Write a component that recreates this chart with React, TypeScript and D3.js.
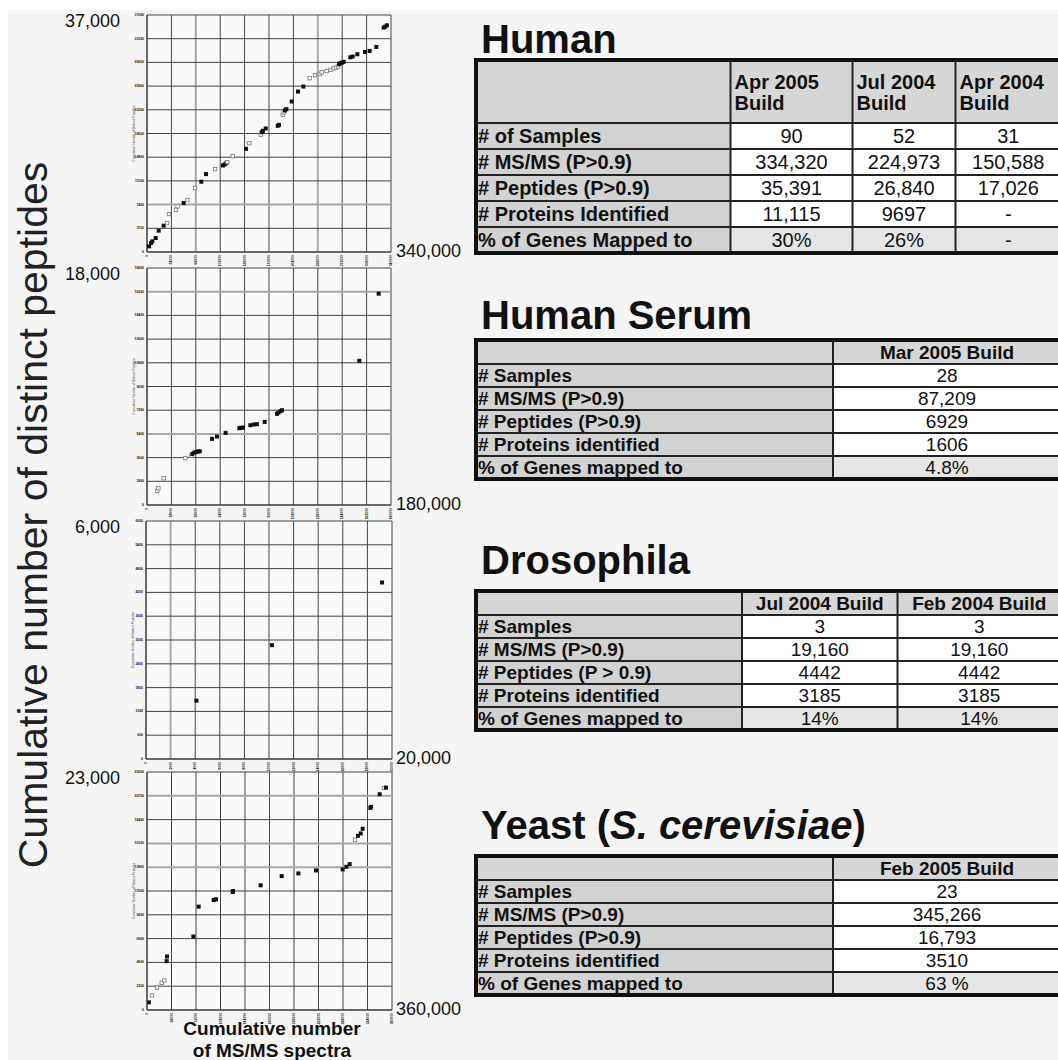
import React from "react";
import * as d3 from "d3";

// ---------- DATA ----------
// [cumulative number of MS/MS spectra, cumulative number of distinct peptides, 1 = filled marker / 0 = open marker]
const humanPoints: [number, number, number][] = [
  [2800, 880, 1], [5600, 1400, 1], [7400, 1660, 1], [12100, 2180, 1], [16300, 3330, 1],
  [23200, 4110, 1], [27900, 4520, 0], [30700, 5930, 0], [40400, 6600, 0], [42700, 7120, 0],
  [51100, 7640, 1], [56200, 8110, 0], [66900, 9980, 0], [75700, 10970, 1], [82200, 12160, 1],
  [94800, 12940, 0], [105900, 13510, 1], [108200, 13670, 1], [110600, 13880, 1], [111900, 14030, 0],
  [119400, 14970, 0], [138000, 16110, 1], [142600, 16990, 0], [158400, 18290, 0], [159800, 18710, 1],
  [161600, 18920, 1], [165400, 19280, 1], [182100, 19700, 1], [183900, 19850, 1], [189100, 21410, 0],
  [190400, 21780, 0], [192300, 22090, 1], [194200, 22300, 1], [201600, 23490, 1], [210400, 25050, 1],
  [217900, 25830, 1], [226700, 27130, 0], [234100, 27600, 0], [240600, 27800, 0], [243400, 28060, 0],
  [250400, 28270, 0], [255900, 28430, 0], [260100, 28690, 0], [263800, 28790, 0], [266200, 28950, 0],
  [267600, 29310, 1], [269400, 29470, 1], [271700, 29570, 1], [274100, 29680, 1], [283300, 30400, 1],
  [286600, 30510, 1], [293100, 30870, 1], [303800, 31230, 1], [310300, 31390, 1], [319600, 32010, 1],
  [329800, 35030, 1], [332100, 35180, 1], [334300, 35390, 1],
];
const serumPoints: [number, number, number][] = [
  [7600, 1070, 0], [8400, 1270, 0], [12300, 2030, 0], [28300, 3550, 0], [32700, 3730, 0],
  [33400, 3880, 1], [34900, 3980, 1], [36400, 4030, 1], [37600, 4060, 1], [38900, 4080, 1],
  [48000, 5020, 1], [51600, 5200, 1], [58000, 5480, 1], [68100, 5830, 1], [69300, 5860, 1],
  [70800, 5880, 1], [76200, 6060, 1], [78700, 6110, 1], [81100, 6140, 1], [86800, 6310, 1],
  [95900, 6920, 1], [96900, 7020, 1], [98400, 7120, 1], [99600, 7200, 1], [156600, 10950, 1],
  [170900, 16050, 1],
];
const drosophilaPoints: [number, number, number][] = [
  [4100, 1470, 1], [10240, 2870, 1], [19190, 4450, 1],
];
const yeastPoints: [number, number, number][] = [
  [2900, 740, 1], [7300, 1410, 0], [14700, 2180, 0], [21600, 2630, 0], [25500, 2860, 0],
  [28900, 4720, 1], [29400, 5170, 1], [68100, 7100, 1], [75900, 9990, 1], [98000, 10630, 1],
  [101400, 10700, 1], [125900, 11400, 1], [126400, 11500, 1], [167000, 12050, 1], [197900, 12940, 1],
  [222400, 13200, 1], [248300, 13490, 1], [287500, 13590, 1], [292900, 13840, 1], [297800, 14100, 1],
  [305600, 16450, 0], [310000, 16830, 1], [314000, 17060, 1], [316900, 17510, 1], [328200, 19530, 1],
  [329100, 19630, 1], [341900, 20850, 1], [348200, 21460, 0], [351200, 21490, 1],
];

const peptideMax = [37000, 18000, 6000, 23000];
const spectraMax = [340000, 180000, 20000, 360000];
const peptideMaxLabels = ["37,000", "18,000", "6,000", "23,000"];
const spectraMaxLabels = ["340,000", "180,000", "20,000", "360,000"];

const tableTitles = ["Human", "Human Serum", "Drosophila", "Yeast"];

const humanHeader = [["Apr 2005", "Build"], ["Jul 2004", "Build"], ["Apr 2004", "Build"]];
const humanRows = ["# of Samples", "# MS/MS (P>0.9)", "# Peptides (P>0.9)", "# Proteins Identified", "% of Genes Mapped to"];
const humanValues = [
  ["90", "52", "31"],
  ["334,320", "224,973", "150,588"],
  ["35,391", "26,840", "17,026"],
  ["11,115", "9697", "-"],
  ["30%", "26%", "-"],
];

const serumHeader = [["Mar 2005 Build"]];
const serumRows = ["# Samples", "# MS/MS (P>0.9)", "# Peptides (P>0.9)", "# Proteins identified", "% of Genes mapped to"];
const serumValues = [["28"], ["87,209"], ["6929"], ["1606"], ["4.8%"]];

const drosophilaHeader = [["Jul 2004 Build"], ["Feb 2004 Build"]];
const drosophilaRows = ["# Samples", "# MS/MS (P>0.9)", "# Peptides (P > 0.9)", "# Proteins identified", "% of Genes mapped to"];
const drosophilaValues = [["3", "3"], ["19,160", "19,160"], ["4442", "4442"], ["3185", "3185"], ["14%", "14%"]];

const yeastHeader = [["Feb 2005 Build"]];
const yeastRows = ["# Samples", "# MS/MS (P>0.9)", "# Peptides (P>0.9)", "# Proteins identified", "% of Genes mapped to"];
const yeastValues = [["23"], ["345,266"], ["16,793"], ["3510"], ["63 %"]];

// ---------- LAYOUT ----------
const FONT = "'Liberation Sans', Arial, Helvetica, sans-serif";

const panelBoxes = [
  { l: 147, r: 391, t: 15, b: 252, lightV: [2, 7], lightH: [2] },
  { l: 147, r: 391, t: 268, b: 505, lightV: [], lightH: [3, 9] },
  { l: 146, r: 392, t: 521, b: 759, lightV: [1], lightH: [] },
  { l: 147, r: 392, t: 772, b: 1010, lightV: [], lightH: [6, 7, 9] },
];
const panelPoints = [humanPoints, serumPoints, drosophilaPoints, yeastPoints];

function Panel({ idx }: { idx: number }) {
  const box = panelBoxes[idx];
  const pts = panelPoints[idx];
  const xMax = spectraMax[idx];
  const yMax = peptideMax[idx];
  const x = d3.scaleLinear().domain([0, xMax]).range([box.l, box.r]);
  const y = d3.scaleLinear().domain([0, yMax]).range([box.b, box.t]);
  const xt = d3.range(0, 11).map((i) => (xMax * i) / 10);
  const yt = d3.range(0, 11).map((i) => (yMax * i) / 10);
  return (
    <g>
      <rect x={box.l} y={box.t} width={box.r - box.l} height={box.b - box.t} fill="#f9f9f9" />
      {xt.map((v, i) => {
        const light = box.lightV.includes(i);
        return (
          <line key={"v" + i} x1={x(v)} x2={x(v)} y1={box.t} y2={box.b}
            stroke={light ? "#a8a8a8" : "#444"} strokeWidth={light ? 2 : 1} />
        );
      })}
      {yt.map((v, i) => {
        const light = box.lightH.includes(i);
        return (
          <line key={"h" + i} x1={box.l} x2={box.r} y1={y(v)} y2={y(v)}
            stroke={light ? "#a8a8a8" : "#444"} strokeWidth={light ? 2 : 1} />
        );
      })}
      <line x1={box.l} x2={box.l} y1={box.t} y2={box.b} stroke="#333" strokeWidth={1} />
      <line x1={box.l} x2={box.r} y1={box.b} y2={box.b} stroke="#333" strokeWidth={1} />
      {yt.map((v, i) => (
        <text key={"yl" + i} x={box.l - 3} y={y(v) + 1} fontSize={3.4} fontFamily={FONT}
          fontWeight="bold" textAnchor="end" fill="#111">{v}</text>
      ))}
      {xt.map((v, i) => (
        <text key={"xl" + i} transform={`translate(${x(v) + 1},${box.b + 3}) rotate(-90)`}
          fontSize={3.4} fontFamily={FONT} fontWeight="bold" textAnchor="end" fill="#111">{v}</text>
      ))}
      <text transform={`translate(${box.l - 12},${(box.t + box.b) / 2}) rotate(-90)`}
        fontSize={3.2} fontFamily={FONT} textAnchor="middle" fill="#333">
        Cumulative Number of Distinct Peptides
      </text>
      {pts.map((p, i) =>
        p[2] === 1 ? (
          <rect key={"p" + i} x={x(p[0]) - 2} y={y(p[1]) - 2} width={4} height={4} fill="#111" />
        ) : (
          <rect key={"p" + i} x={x(p[0]) - 1.7} y={y(p[1]) - 1.7} width={3.4} height={3.4}
            fill="#fbfbfb" stroke="#777" strokeWidth={0.8} />
        )
      )}
      <text x={120} y={box.t + 12} fontSize={18} fontFamily={FONT} textAnchor="end" fill="#111">
        {peptideMaxLabels[idx]}
      </text>
      <text x={396} y={box.b + 5} fontSize={18} fontFamily={FONT} fill="#111">
        {spectraMaxLabels[idx]}
      </text>
    </g>
  );
}

type TableSpec = {
  edges: number[];
  top: number;
  headerH: number;
  rowH: number;
  header: string[][];
  rows: string[];
  values: string[][];
  headerLeft: boolean;
  fs: number;
  titleY: number;
  title: React.ReactNode;
};

const tables: TableSpec[] = [
  {
    edges: [476, 730.5, 852.5, 955.5, 1061], top: 60, headerH: 63, rowH: 26,
    header: humanHeader, rows: humanRows, values: humanValues, headerLeft: true, fs: 20,
    titleY: 53, title: tableTitles[0],
  },
  {
    edges: [476, 833, 1061], top: 340, headerH: 24, rowH: 23,
    header: serumHeader, rows: serumRows, values: serumValues, headerLeft: false, fs: 19,
    titleY: 329, title: tableTitles[1],
  },
  {
    edges: [476, 742, 897.5, 1061], top: 591, headerH: 24, rowH: 23,
    header: drosophilaHeader, rows: drosophilaRows, values: drosophilaValues, headerLeft: false, fs: 19,
    titleY: 574, title: tableTitles[2],
  },
  {
    edges: [476, 833, 1061], top: 856, headerH: 24, rowH: 23,
    header: yeastHeader, rows: yeastRows, values: yeastValues, headerLeft: false, fs: 19,
    titleY: 839,
    title: (
      <>
        {tableTitles[3]} (<tspan fontStyle="italic">S. cerevisiae</tspan>)
      </>
    ),
  },
];

function Table({ t }: { t: TableSpec }) {
  const { edges, top, headerH, rowH, fs } = t;
  const left = edges[0];
  const right = edges[edges.length - 1];
  const bottom = top + headerH + rowH * t.rows.length;
  const rowTop = (i: number) => top + headerH + i * rowH;
  return (
    <g fontFamily={FONT}>
      <text x={481} y={t.titleY} fontSize={40} fontWeight="bold" fill="#111">{t.title}</text>
      <rect x={left} y={top} width={right - left} height={headerH} fill="#d6d6d6" />
      <rect x={left} y={top + headerH} width={edges[1] - left} height={bottom - top - headerH} fill="#d2d2d2" />
      {t.values.map((row, ri) =>
        row.map((_, ci) => (
          <rect key={`c${ri}-${ci}`} x={edges[ci + 1]} y={rowTop(ri)} width={edges[ci + 2] - edges[ci + 1]}
            height={rowH} fill={ri === t.values.length - 1 ? "#e6e6e6" : "#ffffff"} />
        ))
      )}
      {t.header.map((lines, ci) =>
        lines.map((ln, li) => {
          const cx = t.headerLeft ? edges[ci + 1] + 4 : (edges[ci + 1] + edges[ci + 2]) / 2;
          const yy = lines.length > 1 ? top + 29 + li * 21 : top + headerH / 2 + fs * 0.36;
          return (
            <text key={`h${ci}-${li}`} x={cx} y={yy} fontSize={fs} fontWeight="bold"
              textAnchor={t.headerLeft ? "start" : "middle"} fill="#111">{ln}</text>
          );
        })
      )}
      {t.rows.map((r, ri) => (
        <text key={"r" + ri} x={478} y={rowTop(ri) + rowH / 2 + fs * 0.36} fontSize={fs}
          fontWeight="bold" fill="#111">{r}</text>
      ))}
      {t.values.map((row, ri) =>
        row.map((v, ci) => (
          <text key={`v${ri}-${ci}`} x={(edges[ci + 1] + edges[ci + 2]) / 2} y={rowTop(ri) + rowH / 2 + fs * 0.36}
            fontSize={fs} textAnchor="middle" fill="#111">{v}</text>
        ))
      )}
      {d3.range(0, t.rows.length).map((i) => (
        <line key={"hl" + i} x1={left} x2={right} y1={rowTop(i)} y2={rowTop(i)} stroke="#222" strokeWidth={2} />
      ))}
      {edges.slice(1, -1).map((e, i) => (
        <line key={"vl" + i} x1={e} x2={e} y1={top} y2={bottom} stroke="#222" strokeWidth={2} />
      ))}
      <rect x={left} y={top} width={right - left} height={bottom - top} fill="none" stroke="#111" strokeWidth={4} />
    </g>
  );
}

export default function App() {
  return (
    <svg width={1058} height={1060} style={{ position: "absolute", left: 0, top: 0, display: "block" }}>
      <rect x={0} y={0} width={1058} height={1060} fill="#ffffff" />
      <rect x={8} y={10} width={1050} height={1050} fill="#f5f5f5" />
      {[0, 1, 2, 3].map((i) => (
        <Panel key={i} idx={i} />
      ))}
      <text transform="translate(47,515) rotate(-90)" fontSize={41} fontFamily={FONT}
        textAnchor="middle" fill="#222">
        Cumulative number of distinct peptides
      </text>
      <text x={272} y={1035} fontSize={19} fontWeight="bold" fontFamily={FONT} textAnchor="middle" fill="#111">
        Cumulative number
      </text>
      <text x={272} y={1057} fontSize={19} fontWeight="bold" fontFamily={FONT} textAnchor="middle" fill="#111">
        of MS/MS spectra
      </text>
      {tables.map((t, i) => (
        <Table key={i} t={t} />
      ))}
    </svg>
  );
}
